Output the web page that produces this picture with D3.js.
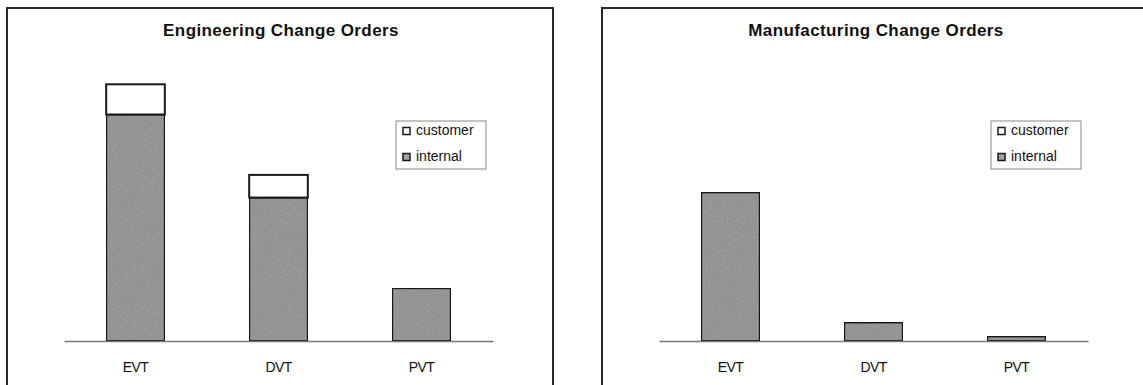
<!DOCTYPE html>
<html>
<head>
<meta charset="utf-8">
<script src="https://cdn.jsdelivr.net/npm/d3@7"></script>
<style>
  html, body { margin: 0; padding: 0; background: #fff; }
  svg { display: block; }
  text { font-family: "Liberation Sans", Arial, sans-serif; fill: #111; }
</style>
</head>
<body>
<svg id="chart" width="1143" height="385"></svg>
<script>
// Change-order counts per build phase
const categories = ["EVT", "DVT", "PVT"];
const seriesNames = ["customer", "internal"];

const engInternal = [30, 19, 7];
const engCustomer = [4, 3, 0];

const mfgInternal = [32, 4, 1];
const mfgCustomer = [0, 0, 0];

const titles = ["Engineering Change Orders", "Manufacturing Change Orders"];
const yMax = [40, 65];

const svg = d3.select("#chart");

// Grain for the grey fills
const defs = svg.append("defs");
const grain = defs.append("filter").attr("id", "grain")
  .attr("x", 0).attr("y", 0).attr("width", 1).attr("height", 1);
grain.append("feTurbulence").attr("type", "fractalNoise")
  .attr("baseFrequency", 1.1).attr("numOctaves", 2).attr("seed", 4).attr("result", "noise");
grain.append("feColorMatrix").attr("in", "noise").attr("type", "matrix")
  .attr("values", "0 0 0 0 0  0 0 0 0 0  0 0 0 0 0  0 0 0 0.35 0").attr("result", "dots");
grain.append("feComposite").attr("in", "dots").attr("in2", "SourceGraphic").attr("operator", "in").attr("result", "clipped");
grain.append("feMerge").selectAll("feMergeNode").data(["SourceGraphic", "clipped"]).join("feMergeNode").attr("in", d => d);

const colors = { customer: "#ffffff", internal: "#a3a3a3" };

function drawPanel(x0, title, internal, customer, maxVal) {
  const g = svg.append("g").attr("transform", `translate(${x0},0)`);
  const panelW = 546;

  // frame (runs off the bottom edge)
  g.append("rect")
    .attr("x", 0).attr("y", 8).attr("width", panelW).attr("height", 400)
    .attr("fill", "none").attr("stroke", "#2a2a2a").attr("stroke-width", 2);

  g.append("text")
    .attr("x", panelW / 2 + 1).attr("y", 36)
    .attr("text-anchor", "middle")
    .style("font-size", "17px").style("font-weight", "bold")
    .style("letter-spacing", "0.4px")
    .text(title);

  const x = d3.scaleBand().domain(categories).range([57, 486]).paddingInner(0.59).paddingOuter(0.295);
  const y = d3.scaleLinear().domain([0, maxVal]).range([333, 31]);

  const rows = categories.map((c, i) => ({ cat: c, internal: internal[i], customer: customer[i] }));
  const stacked = d3.stack().keys(["internal", "customer"])(rows);

  const plot = g.append("g").attr("transform", "translate(0,8)");

  stacked.forEach(layer => {
    plot.append("g").selectAll("rect")
      .data(layer.filter(d => d[1] - d[0] > 0))
      .join("rect")
      .attr("x", d => x(d.data.cat))
      .attr("width", x.bandwidth())
      .attr("y", d => y(d[1]))
      .attr("height", d => y(d[0]) - y(d[1]))
      .attr("fill", colors[layer.key])
      .attr("filter", layer.key === "internal" ? "url(#grain)" : null)
      .attr("stroke", "#1a1a1a").attr("stroke-width", 2);
  });

  // category axis
  const axis = plot.append("g").attr("transform", `translate(0,${y(0)})`)
    .call(d3.axisBottom(x).tickSize(0).tickPadding(21));
  axis.select(".domain").attr("stroke", "#777").attr("stroke-width", 1.5);
  axis.selectAll("text")
    .style("font-size", "14px").style("font-family", "'Liberation Sans', Arial, sans-serif")
    .style("letter-spacing", "-0.6px").attr("fill", "#111");

  // legend
  const lg = g.append("g").attr("transform", "translate(389,121)");
  lg.append("rect").attr("width", 90).attr("height", 48)
    .attr("fill", "#fff").attr("stroke", "#888").attr("stroke-width", 1);
  seriesNames.forEach((name, i) => {
    const row = lg.append("g").attr("transform", `translate(0,${9 + i * 26})`);
    row.append("rect").attr("x", 7).attr("y", -2.5).attr("width", 7).attr("height", 7)
      .attr("fill", colors[name]).attr("stroke", "#1a1a1a").attr("stroke-width", 1.5);
    row.append("text").attr("x", 20).attr("y", 5)
      .style("font-size", "14px").text(name);
  });
}

drawPanel(7, titles[0], engInternal, engCustomer, yMax[0]);
drawPanel(602, titles[1], mfgInternal, mfgCustomer, yMax[1]);
</script>
</body>
</html>
